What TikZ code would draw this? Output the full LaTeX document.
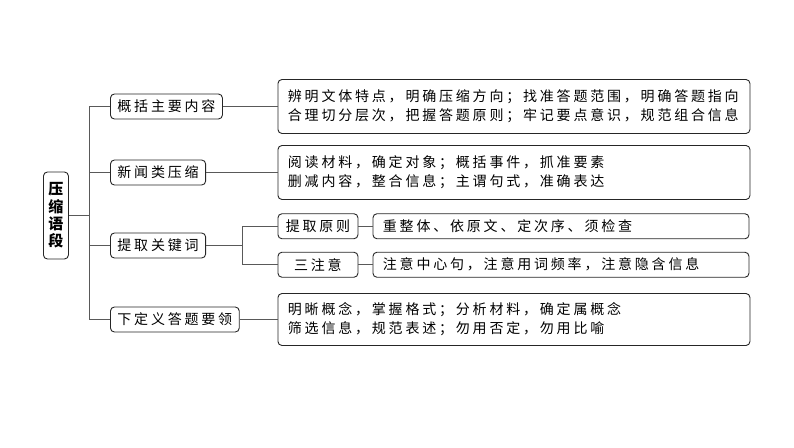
\documentclass[tikz,border=0pt]{standalone}
\usepackage{fontspec}
\setmainfont{Noto Sans CJK SC}[LetterSpace=20]
\usetikzlibrary{trees}

\begin{document}
\begin{tikzpicture}[x=1pt, y=-1pt, grow'=right, growth parent anchor=west,
        every node/.style={draw=black!85, line width=0.9pt, rounded corners=4pt, anchor=west,
            font=\fontsize{14}{19}\selectfont, inner ysep=0pt},
        edge from parent/.style={draw, line width=1.1pt, black!65},
        topic/.style={minimum height=25pt, inner xsep=7pt},
        detail/.style={text width=452pt, align=left, inner xsep=10pt, minimum height=54pt},
        brief/.style={text width=356pt, align=left, inner xsep=10pt, minimum height=25pt},
        level 1/.style={level distance=67pt, sibling distance=71pt,
            edge from parent path={(\tikzparentnode.east) -- ++(21,0) |- (\tikzchildnode.west)}},
        level 2/.style={level distance=167.5pt, sibling distance=38.5pt,
            edge from parent path={(\tikzparentnode.east) -- ++(36,0) |- (\tikzchildnode.west)}},
        level 3/.style={level distance=95pt,
            edge from parent path={(\tikzparentnode.east) -- (\tikzchildnode.west)}}]

    \useasboundingbox (0,0) rectangle (794,447);

    \node[minimum width=25pt, minimum height=87pt, align=center, inner xsep=2pt,
          font=\fontsize{15}{17.3}\selectfont\bfseries] (ysd) at (43,215.5) {压\\缩\\语\\段}
    child { node[topic, yshift=2.5pt] (gk) {概括主要内容}
            child { node[detail] (gkd) {辨明文体特点，明确压缩方向；找准答题范围，明确答题指向\\合理切分层次，把握答题原则；牢记要点意识，规范组合信息}}
        }
    child { node[topic, yshift=7.5pt] (xw) {新闻类压缩}
            child { node[detail] (xwd) {阅读材料，确定对象；概括事件，抓准要素\\删减内容，整合信息；主谓句式，准确表达}}
        }
    child { node[topic, yshift=5.5pt] (tq) {提取关键词}
            child { node[topic, minimum width=80pt] (tqy) {提取原则}
                    child { node[brief] (tqyd) {重整体、依原文、定次序、须检查}}
                }
            child { node[topic, minimum width=80pt] (szy) {三注意}
                    child { node[brief] (szyd) {注意中心句，注意用词频率，注意隐含信息}}
                }
        }
    child { node[topic, yshift=2.5pt] (xd) {下定义答题要领}
            child { node[detail, minimum height=52pt] (xdd) {明晰概念，掌握格式；分析材料，确定属概念\\筛选信息，规范表述；勿用否定，勿用比喻}}
        };
\end{tikzpicture}
\end{document}
